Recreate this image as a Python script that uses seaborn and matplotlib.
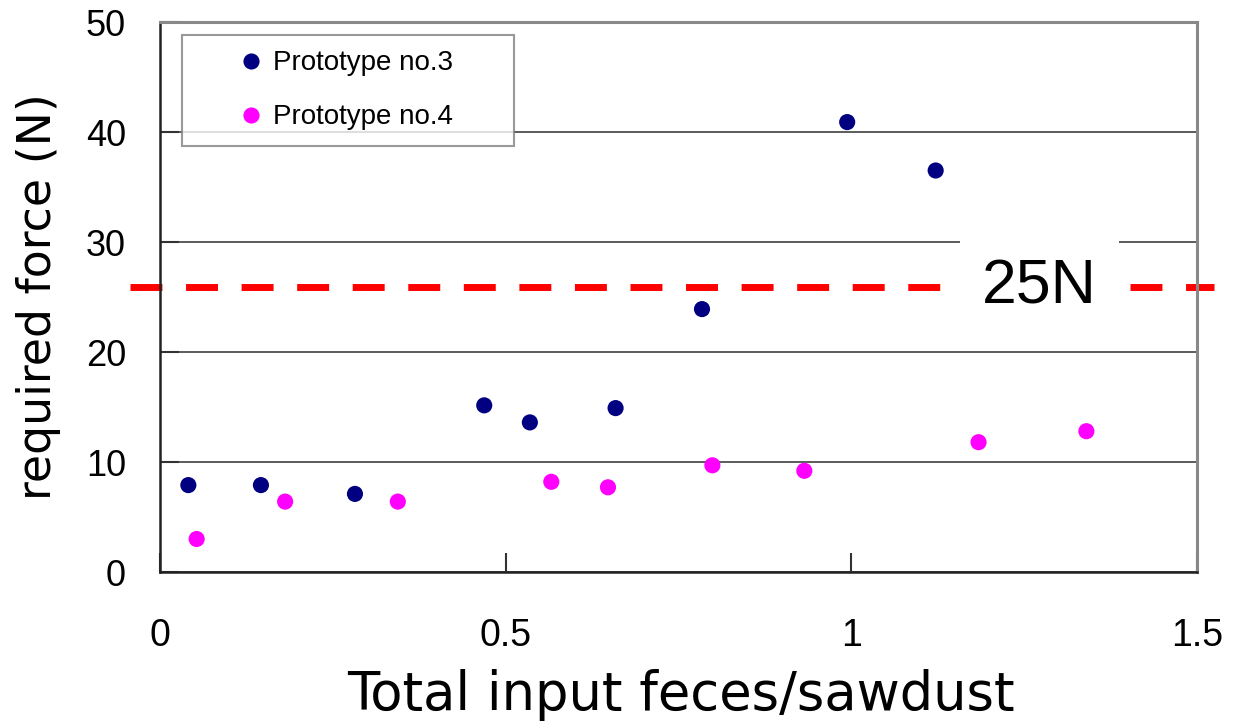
import matplotlib
matplotlib.use("Agg")
import matplotlib.pyplot as plt
import seaborn as sns
import pandas as pd

# ---- data ----
proto3_x = [0.041, 0.146, 0.282, 0.469, 0.535, 0.659, 0.784, 0.994, 1.122]
proto3_y = [7.9, 7.9, 7.1, 15.15, 13.6, 14.9, 23.9, 40.9, 36.5]
proto4_x = [0.053, 0.181, 0.344, 0.566, 0.648, 0.799, 0.932, 1.184, 1.340]
proto4_y = [3.0, 6.4, 6.4, 8.2, 7.7, 9.7, 9.2, 11.8, 12.8]
series_names = ["Prototype no.3", "Prototype no.4"]
threshold = 25.9
threshold_label = "25N"
x_ticks = [0, 0.5, 1, 1.5]
x_tick_labels = ["0", "0.5", "1", "1.5"]
y_ticks = [0, 10, 20, 30, 40, 50]
y_tick_labels = ["0", "10", "20", "30", "40", "50"]
x_label = "Total input feces/sawdust"
y_label = "required force (N)"

df = pd.DataFrame({
    "x": proto3_x + proto4_x,
    "y": proto3_y + proto4_y,
    "series": [series_names[0]] * len(proto3_x) + [series_names[1]] * len(proto4_x),
})

sns.set_theme(style="white")
plt.rcParams["font.family"] = ["Liberation Sans", "DejaVu Sans"]
plt.rcParams["text.color"] = "black"
plt.rcParams["axes.labelcolor"] = "black"
plt.rcParams["xtick.color"] = "black"
plt.rcParams["ytick.color"] = "black"

fig = plt.figure(figsize=(12.37, 7.27), dpi=100)
ax = fig.add_axes([160 / 1237, 1 - 572 / 727, 1037 / 1237, 550 / 727])

sns.scatterplot(data=df, x="x", y="y", hue="series",
                palette={series_names[0]: "#000080", series_names[1]: "#FF00FF"},
                s=135, linewidth=0, ax=ax, zorder=3)

ax.set_xlim(0, 1.5)
ax.set_ylim(0, 50)
ax.set_xticks(x_ticks)
ax.set_xticklabels(x_tick_labels, family=["Liberation Sans Narrow", "DejaVu Sans Condensed", "Liberation Sans"], fontsize=27)
ax.set_yticks(y_ticks)
ax.set_yticklabels(y_tick_labels, fontsize=26)

ax.tick_params(axis="both", direction="in", length=14, width=1.5, color="#333333",
               labelcolor="black", bottom=True, left=True, top=False, right=False)
ax.tick_params(axis="x", pad=33)
ax.tick_params(axis="y", pad=24.5)

ax.yaxis.grid(True, color="#404040", linewidth=1.2)
ax.xaxis.grid(False)
ax.set_axisbelow(True)

for side in ["left", "bottom"]:
    ax.spines[side].set_color("#222222")
    ax.spines[side].set_linewidth(1.8)
for side in ["top", "right"]:
    ax.spines[side].set_color("#888888")
    ax.spines[side].set_linewidth(2.2)

# threshold line
ax.axhline(threshold, xmin=-0.029, xmax=1.0165, color="#FF0000", linewidth=5.0,
           dashes=(4.6, 3.4), clip_on=False, zorder=2)
ax.text(1.272, threshold, threshold_label, fontsize=45, ha="center", va="center",
        color="black", zorder=6,
        bbox=dict(boxstyle="square,pad=0.35", facecolor="white", edgecolor="none"))

ax.set_xlabel(x_label, fontsize=38, family="DejaVu Sans", color="black")
ax.set_ylabel(y_label, fontsize=33, family="DejaVu Sans", color="black")
ax.xaxis.set_label_coords(0.5024, -0.176)
ax.yaxis.set_label_coords(-0.0955, 0.5)

old = ax.get_legend()
handles = old.legend_handles
labels = [t.get_text() for t in old.get_texts()]
old.remove()
leg = ax.legend(handles, labels, loc="upper left",
                bbox_to_anchor=(22 / 1037, 0.0, 332 / 1037, (572 - 35) / 550),
                mode="expand", borderaxespad=0, fontsize=20,
                frameon=True, fancybox=False, shadow=False,
                borderpad=0.55, handlelength=3.9, handletextpad=-1.18,
                labelspacing=1.01, markerscale=1.0)
leg.get_frame().set_edgecolor("#808080")
leg.get_frame().set_linewidth(1.5)
leg.get_frame().set_facecolor("white")
for t in leg.get_texts():
    t.set_color("black")
leg.set_zorder(7)

fig.savefig("out.png", dpi=100)
